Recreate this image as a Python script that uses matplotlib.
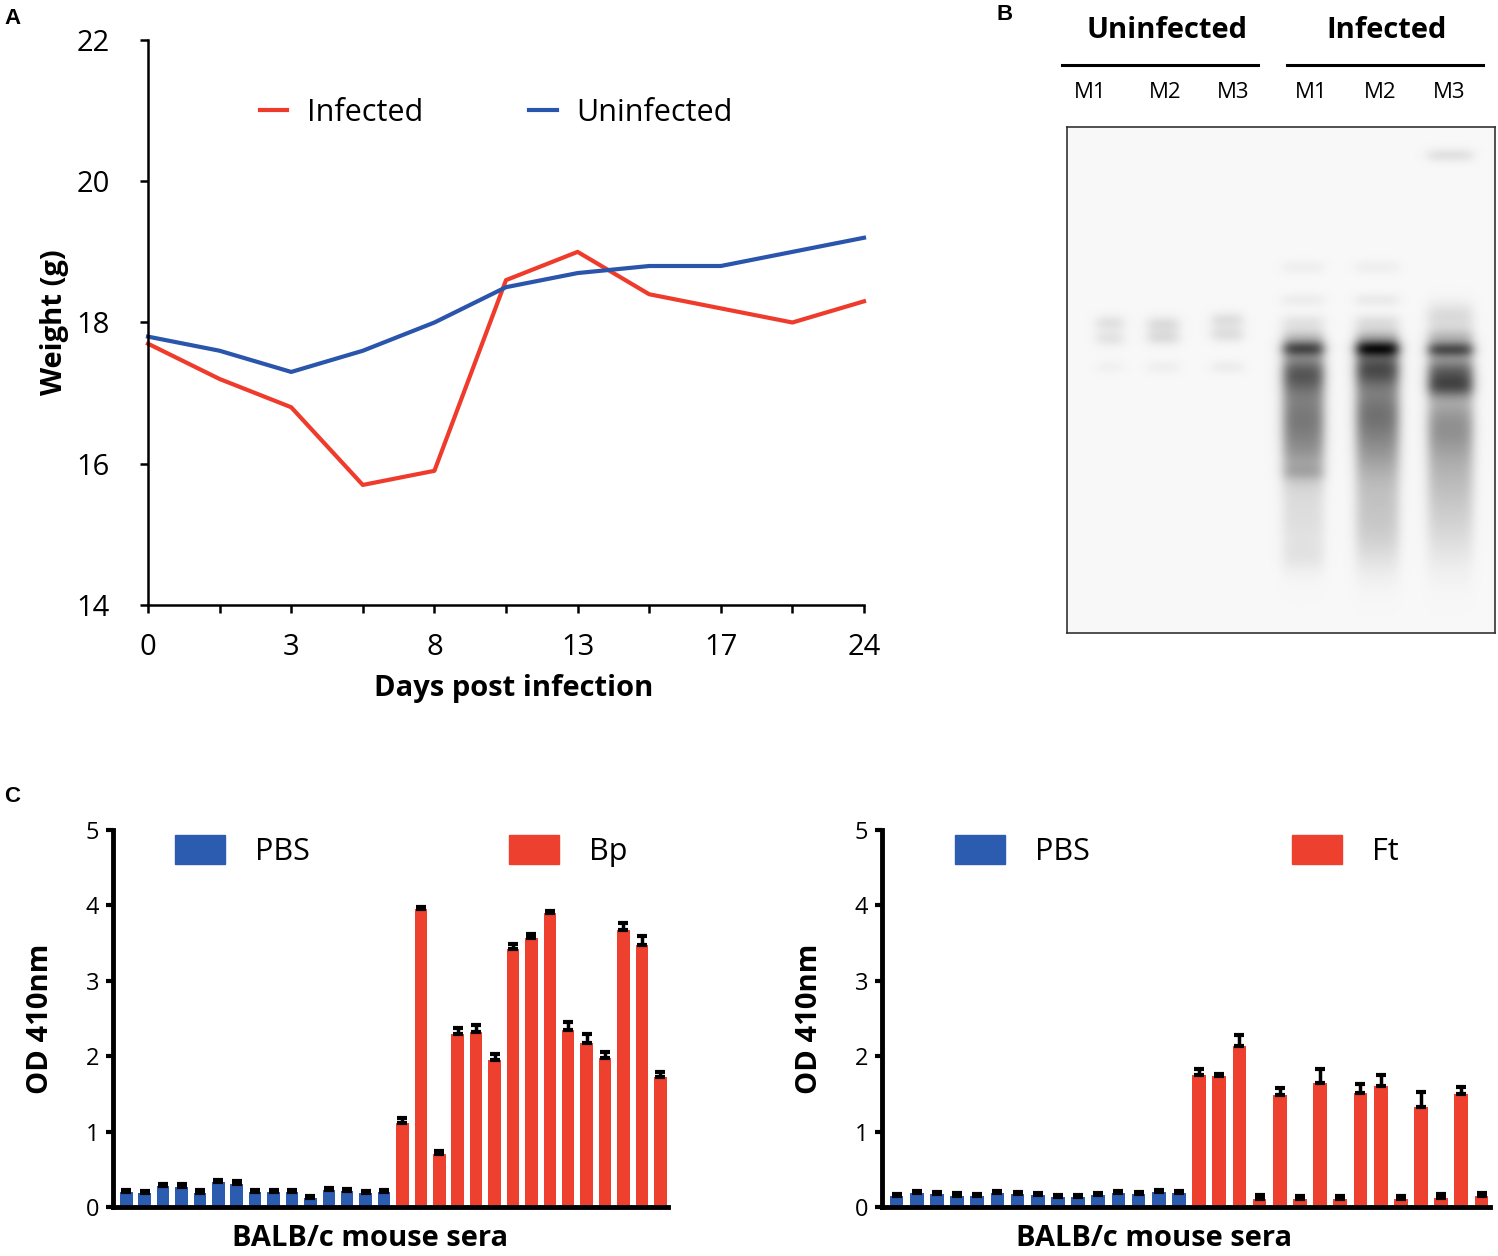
import numpy as np
import matplotlib
matplotlib.use('Agg')
from matplotlib import pyplot as plt
from matplotlib.patches import Patch
from matplotlib.lines import Line2D

plt.rcParams['font.family'] = ['Open Sans', 'DejaVu Sans']

W, H = 1498, 1256

# ---- panel A data
day_labels = ['0', '', '3', '', '8', '', '13', '', '17', '', '24']
weight_infected = [17.7, 17.2, 16.8, 15.7, 15.9, 18.6, 19.0, 18.4, 18.2, 18.0, 18.3]
weight_uninfected = [17.8, 17.6, 17.3, 17.6, 18.0, 18.5, 18.7, 18.8, 18.8, 19.0, 19.2]

# ---- panel B data (blot lanes, in blot pixel units)
lane_names = ['M1', 'M2', 'M3', 'M1', 'M2', 'M3']
lane_x = [43, 96, 160, 236, 310, 383]
lane_halfwidth = [13, 15, 15, 20, 21, 22]
# (row, sigma, intensity)
lane_bands = [
    [(196, 5, 0.10), (211, 5, 0.09), (240, 4, 0.03)],
    [(197, 5, 0.12), (210, 5, 0.12), (240, 4, 0.04)],
    [(193, 5, 0.11), (207, 5, 0.11), (240, 4, 0.05)],
    [(140, 4, 0.04), (173, 4, 0.05), (195, 5, 0.08), (210, 6, 0.18), (221, 5, 0.55),
     (245, 15, 0.55), (285, 22, 0.42), (325, 22, 0.30), (345, 5, 0.10), (390, 30, 0.10),
     (430, 10, 0.04)],
    [(140, 4, 0.04), (173, 4, 0.06), (195, 5, 0.10), (210, 6, 0.22), (221, 5, 0.70),
     (240, 14, 0.60), (280, 22, 0.42), (320, 25, 0.30), (375, 30, 0.16), (415, 25, 0.08)],
    [(28, 4, 0.10), (190, 10, 0.12), (210, 6, 0.22), (222, 5, 0.60), (245, 12, 0.55),
     (260, 7, 0.30), (295, 25, 0.35), (345, 30, 0.20), (400, 30, 0.10)],
]
blot_w, blot_h = 428, 506

# ---- panel C data
pbs_left = [0.20, 0.18, 0.28, 0.27, 0.19, 0.33, 0.31, 0.20, 0.20, 0.20, 0.12, 0.22, 0.21, 0.18, 0.20]
pbs_left_err = [0.03] * 15
bp_vals = [1.12, 3.95, 0.70, 2.30, 2.32, 1.95, 3.42, 3.57, 3.90, 2.35, 2.17, 1.97, 3.67, 3.48, 1.72]
bp_err = [0.06, 0.03, 0.04, 0.08, 0.09, 0.08, 0.07, 0.05, 0.03, 0.10, 0.12, 0.09, 0.10, 0.11, 0.07]

pbs_right = [0.14, 0.18, 0.17, 0.15, 0.14, 0.18, 0.17, 0.16, 0.13, 0.13, 0.16, 0.18, 0.17, 0.20, 0.18]
pbs_right_err = [0.03] * 15
ft_vals = [1.75, 1.74, 2.13, 0.11, 1.48, 0.10, 1.65, 0.10, 1.51, 1.61, 0.10, 1.33, 0.12, 1.50, 0.14]
ft_err = [0.08, 0.02, 0.15, 0.05, 0.10, 0.05, 0.18, 0.05, 0.12, 0.14, 0.05, 0.20, 0.05, 0.09, 0.05]

red = '#EF3B2C'
blue = '#2A55AC'
bar_blue = '#2B5CB0'
bar_red = '#EE402E'


def px(x, y):
    return x / W, 1 - y / H


def axes_rect(x0, y0, x1, y1):
    return [x0 / W, 1 - y1 / H, (x1 - x0) / W, (y1 - y0) / H]


fig = plt.figure(figsize=(W / 100, H / 100), dpi=100)

# ---------------- panel A
ax = fig.add_axes(axes_rect(148, 40, 864, 605))
x = np.arange(len(day_labels))
ax.plot(x, weight_infected, color=red, lw=3, label='Infected', clip_on=False)
ax.plot(x, weight_uninfected, color=blue, lw=3, label='Uninfected', clip_on=False)
ax.set_xlim(0, 10)
ax.set_ylim(14, 22)
ax.set_xticks(x)
ax.set_xticklabels(day_labels)
ax.set_yticks([14, 16, 18, 20, 22])
for s in ['top', 'right']:
    ax.spines[s].set_visible(False)
for s in ['left', 'bottom']:
    ax.spines[s].set_linewidth(1.8)
ax.tick_params(direction='out', length=5.5, width=1.8, labelsize=21)
ax.tick_params(axis='y', pad=22)
ax.tick_params(axis='x', pad=15)
ax.set_xlabel('Days post infection', fontsize=21, fontweight='bold', labelpad=7)
ax.xaxis.set_label_coords(0.511, -0.123)
ax.set_ylabel('Weight (g)', fontsize=21, fontweight='bold', labelpad=5)
ax.legend(loc='center left', bbox_to_anchor=(0.118, 0.871), ncol=2, frameon=False,
          fontsize=22, handlelength=0.9, handletextpad=0.65, columnspacing=3.45)

# ---------------- panel B
axb = fig.add_axes(axes_rect(1067, 127, 1067 + blot_w, 127 + blot_h))
cols = np.arange(blot_w)[None, :]
rows = np.arange(blot_h)[:, None]
img = np.zeros((blot_h, blot_w))
for cx, hw, bands in zip(lane_x, lane_halfwidth, lane_bands):
    hprof = 1 / (1 + np.exp((np.abs(cols - cx) - hw) / 3.0))
    vprof = np.zeros((blot_h, 1))
    for r, sig, inten in bands:
        vprof += inten * np.exp(-0.5 * ((rows - r) / sig) ** 2)
    img += hprof * vprof
# soften like a scanned film
k = np.exp(-0.5 * (np.arange(-8, 9) / 2.5) ** 2)
k /= k.sum()
img = np.apply_along_axis(lambda v: np.convolve(v, k, mode='same'), 0, img)
img = np.apply_along_axis(lambda v: np.convolve(v, k, mode='same'), 1, img)
img = np.clip(img + 0.03, 0, 1)
axb.imshow(img, cmap='gray_r', vmin=0, vmax=1, extent=[0, blot_w, blot_h, 0],
           aspect='auto', interpolation='bilinear')
axb.set_xticks([])
axb.set_yticks([])
for s in axb.spines.values():
    s.set_linewidth(1.2)
    s.set_color('#333333')

lane_label_x = [1090, 1165, 1233, 1311, 1380, 1449]
for name, lx in zip(lane_names, lane_label_x):
    fig.text(*px(lx, 92), name, fontsize=16, ha='center', va='center')
fig.text(*px(1167, 30), 'Uninfected', fontsize=21, fontweight='bold', ha='center', va='center')
fig.text(*px(1387, 30), 'Infected', fontsize=21, fontweight='bold', ha='center', va='center')
for x0, x1 in [(1062, 1258), (1287, 1483)]:
    fig.add_artist(Line2D([x0 / W, x1 / W], [1 - 65 / H, 1 - 65 / H], color='black', lw=2.2))


# ---------------- panel C
def bar_panel(rect, pbs, pbs_e, pos, pos_e, pos_name, leg_x, col_space, xlab_x):
    a = fig.add_axes(rect)
    vals = list(pbs) + list(pos)
    errs = list(pbs_e) + list(pos_e)
    colors = [bar_blue] * len(pbs) + [bar_red] * len(pos)
    xs = np.arange(len(vals))
    a.bar(xs, vals, width=0.68, color=colors, zorder=2)
    a.errorbar(xs, vals, yerr=[np.zeros(len(vals)), errs], fmt='none', ecolor='black',
               elinewidth=2.5, capsize=3.5, capthick=3, zorder=3)
    a.set_xlim(-0.72, len(vals) - 0.58)
    a.set_ylim(0, 5)
    a.set_yticks(range(6))
    a.set_xticks([])
    for s in ['top', 'right']:
        a.spines[s].set_visible(False)
    for s in ['left', 'bottom']:
        a.spines[s].set_linewidth(3.5)
    a.tick_params(axis='y', direction='out', length=5, width=3, labelsize=17, pad=5)
    a.set_xlabel('BALB/c mouse sera', fontsize=21, fontweight='bold', labelpad=12)
    a.xaxis.set_label_coords(xlab_x, -0.045)
    a.set_ylabel('OD 410nm', fontsize=21, fontweight='bold', labelpad=22)
    handles = [Patch(color=bar_blue, label='PBS'), Patch(color=bar_red, label=pos_name)]
    a.legend(handles=handles, loc='upper left', bbox_to_anchor=(leg_x, 1.061), ncol=2,
             frameon=False, fontsize=22, handlelength=1.63, handleheight=1.1,
             handletextpad=1.0, columnspacing=col_space)
    return a


bar_panel(axes_rect(113, 830, 668, 1207), pbs_left, pbs_left_err, bp_vals, bp_err, 'Bp', 0.062, 6.5, 0.463)
bar_panel(axes_rect(882, 830, 1490, 1207), pbs_right, pbs_right_err, ft_vals, ft_err, 'Ft', 0.075, 6.6, 0.447)

# panel letters
for letter, (lx, ly) in {'A': (12, 18), 'B': (1005, 15), 'C': (12, 797)}.items():
    fig.text(*px(lx, ly), letter, fontsize=16, fontweight='bold', family='Liberation Sans',
             ha='center', va='center')

fig.savefig('out.png', dpi=100)
